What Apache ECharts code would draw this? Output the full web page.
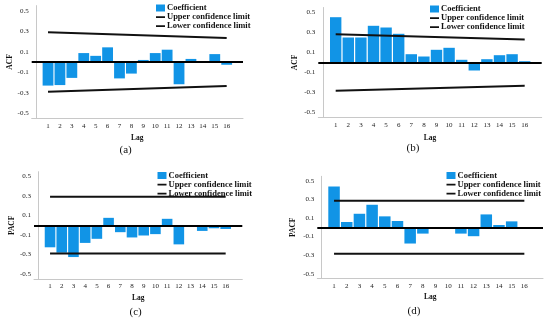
<!DOCTYPE html>
<html><head><meta charset="utf-8">
<script src="https://cdn.jsdelivr.net/npm/echarts@6/dist/echarts.min.js"></script>
<style>html,body{margin:0;padding:0;background:#fff}#c{width:550px;height:332px}</style>
</head><body><div id="c"></div>
<script>
const lags = [1,2,3,4,5,6,7,8,9,10,11,12,13,14,15,16];
const yTicks = [-0.5,-0.3,-0.1,0.1,0.3,0.5];
const acfA = [-0.23,-0.225,-0.155,0.087,0.06,0.143,-0.16,-0.113,0.02,0.087,0.12,-0.217,0.03,0.003,0.077,-0.027];
const upperA = [0.29,0.235], lowerA = [-0.29,-0.235];
const acfB = [0.453,0.25,0.25,0.367,0.35,0.287,0.083,0.06,0.127,0.147,0.027,-0.08,0.033,0.073,0.083,0.013];
const upperB = [0.283,0.23], lowerB = [-0.283,-0.233];
const pacfC = [-0.225,-0.28,-0.325,-0.18,-0.138,0.077,-0.07,-0.124,-0.104,-0.09,0.067,-0.195,-0.005,-0.057,-0.03,-0.037];
const upperC = [0.293,0.293], lowerC = [-0.289,-0.289];
const pacfD = [0.44,0.057,0.146,0.243,0.118,0.068,-0.175,-0.068,0,0,-0.068,-0.096,0.139,0.025,0.064,0.002];
const upperD = [0.286,0.286], lowerD = [-0.286,-0.286];
const captions = ['(a)','(b)','(c)','(d)'];
const yNames = ['ACF','ACF','PACF','PACF'];
const xName = 'Lag';
const legendNames = ['Coefficient','Upper confidence limit','Lower confidence limit'];

const panels = [
  {vals: acfA, up: upperA, lo: lowerA, grid:{left:31.7,top:5.6,width:211.3,height:112.8}, xr:[-0.37,17.37], bw:10.8, yGap:18, xGap:16, leg:{left:156,top:3.5}, cap:[127,151]},
  {vals: acfB, up: upperB, lo: lowerB, grid:{left:318.3,top:7.5,width:223.4,height:110}, xr:[-0.38,17.35], bw:11.4, yGap:19, xGap:17, leg:{left:430,top:4.5}, cap:[414,149]},
  {vals: pacfC, up: upperC, lo: lowerC, grid:{left:34,top:171.7,width:208.3,height:107.3}, xr:[-0.37,17.42], bw:10.6, yGap:18, xGap:15, leg:{left:157.5,top:171}, cap:[137,313.5]},
  {vals: pacfD, up: upperD, lo: lowerD, grid:{left:317.3,top:176.3,width:225.7,height:102}, xr:[-0.32,17.47], bw:11.5, yGap:20, xGap:15, leg:{left:446.5,top:171}, cap:[415,312]}
];
const serif = '"Liberation Serif","DejaVu Serif",serif';
const barColor = '#1194e6';
const lineIcon = 'path://M0,0h0.01v0.01h-0.01zM0,2.6h10v1.9h-10zM9.99,7h0.01v0.01h-0.01z';
const option = {grid:[],xAxis:[],yAxis:[],series:[],legend:[],graphic:[],animation:false};
panels.forEach((p,i)=>{
  option.grid.push(Object.assign({containLabel:false},p.grid));
  option.xAxis.push({type:'value',gridIndex:i,min:p.xr[0],max:p.xr[1],
    name:xName,nameLocation:'middle',nameGap:p.xGap,
    nameTextStyle:{fontFamily:serif,fontWeight:'bold',fontSize:7.5,color:'#111'},
    axisLine:{show:true,onZero:false,lineStyle:{color:'#c8c8c8',width:1}},
    axisTick:{show:false},splitLine:{show:false},
    axisLabel:{customValues:lags,fontFamily:serif,fontSize:7,color:'#222',margin:4}});
  option.yAxis.push({type:'value',gridIndex:i,min:-0.55,max:0.55,
    name:yNames[i],nameLocation:'middle',nameGap:p.yGap,nameRotate:90,
    nameTextStyle:{fontFamily:serif,fontWeight:'bold',fontSize:7.5,color:'#111'},
    axisLine:{show:true,lineStyle:{color:'#c8c8c8',width:1}},
    axisTick:{show:false},splitLine:{show:false},
    axisLabel:{customValues:yTicks,fontFamily:serif,fontSize:7,color:'#222',margin:3,formatter:v=>String(v)}});
  option.series.push({type:'bar',name:legendNames[0],xAxisIndex:i,yAxisIndex:i,barWidth:p.bw,
    itemStyle:{color:barColor},data:lags.map((l,k)=>[l,p.vals[k]]),
    markLine:{silent:true,symbol:'none',label:{show:false},lineStyle:{color:'#000',width:2,type:'solid'},data:[{yAxis:0}]}});
  option.series.push({type:'line',name:legendNames[1],xAxisIndex:i,yAxisIndex:i,symbol:'none',
    lineStyle:{color:'#111',width:2},itemStyle:{color:'#111'},data:[[lags[0],p.up[0]],[lags[lags.length-1],p.up[1]]]});
  option.series.push({type:'line',name:legendNames[2],xAxisIndex:i,yAxisIndex:i,symbol:'none',
    lineStyle:{color:'#111',width:2},itemStyle:{color:'#111'},data:[[lags[0],p.lo[0]],[lags[lags.length-1],p.lo[1]]]});
  option.legend.push({left:p.leg.left,top:p.leg.top,orient:'vertical',itemWidth:9,itemHeight:7,itemGap:0,
    padding:0,selectedMode:false,
    data:[{name:legendNames[0],icon:'rect',itemStyle:{color:barColor}},
          {name:legendNames[1],icon:lineIcon,itemStyle:{color:'#111',borderWidth:0}},
          {name:legendNames[2],icon:lineIcon,itemStyle:{color:'#111',borderWidth:0}}],
    textStyle:{fontFamily:serif,fontWeight:'bold',fontSize:8.5,color:'#111',lineHeight:8.5,padding:[0,0,0,-3]}});
  option.graphic.push({type:'text',left:p.cap[0]-7.5,top:p.cap[1]-6.5,
    style:{text:captions[i],font:'11px '+serif,fill:'#111'}});
});
const chart = echarts.init(document.getElementById('c'),null,{renderer:'canvas'});
chart.setOption(option);
</script></body></html>
